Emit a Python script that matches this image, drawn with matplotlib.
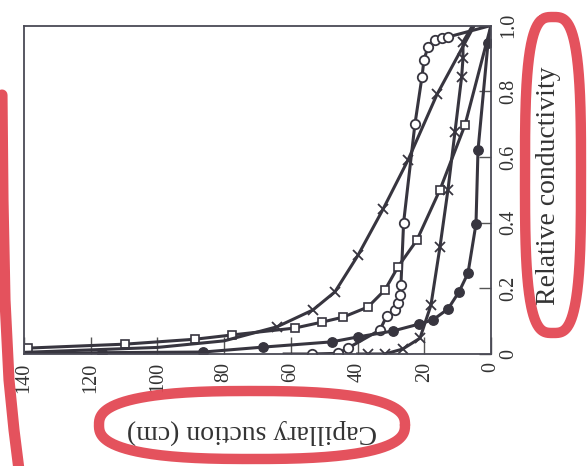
import numpy as np
import matplotlib.pyplot as plt
from matplotlib.lines import Line2D

# capillary suction (cm) / relative conductivity
suction_circ = [62, 53.7, 45.9, 42.9, 33.3, 31.3, 28.8, 27.9, 27.3, 27.0, 26.2, 22.8, 20.7, 20.1, 18.9, 16.8, 14.7, 12.9, 0]
cond_circ = [0.0, 0.0, 0.002, 0.018, 0.073, 0.115, 0.134, 0.155, 0.18, 0.21, 0.40, 0.70, 0.843, 0.895, 0.935, 0.956, 0.962, 0.965, 1.0]

suction_dot = [140, 116.6, 86.3, 68.3, 47.7, 39.9, 29.4, 21.6, 17.4, 12.9, 9.6, 6.9, 4.5, 3.9, 0.9, 0]
cond_dot = [0.0, 0.004, 0.006, 0.021, 0.037, 0.052, 0.07, 0.091, 0.104, 0.137, 0.189, 0.246, 0.396, 0.62, 0.946, 1.0]

suction_sq = [140, 138.8, 109.7, 88.7, 77.6, 58.8, 50.7, 44.4, 36.9, 31.8, 27.9, 22.2, 15.3, 7.8, 0]
cond_sq = [0.015, 0.018, 0.03, 0.045, 0.058, 0.079, 0.097, 0.112, 0.143, 0.195, 0.265, 0.347, 0.50, 0.697, 1.0]

suction_xw = [140, 100, 80, 64.1, 53.4, 46.8, 39.9, 32.4, 24.9, 16.2, 5.0]
cond_xw = [0.005, 0.02, 0.04, 0.083, 0.134, 0.189, 0.30, 0.44, 0.59, 0.79, 1.0]

suction_xs = [40, 36.9, 31.8, 26.5, 21.3, 18.0, 15.3, 12.9, 10.8, 8.8, 8.4, 8.4, 5.5]
cond_xs = [0.0, 0.0, 0.0, 0.015, 0.048, 0.149, 0.326, 0.50, 0.676, 0.844, 0.90, 0.95, 1.0]

xticks = [140, 120, 100, 80, 60, 40, 20, 0]
yticks = [0, 0.2, 0.4, 0.6, 0.8, 1.0]
ytick_labels = ['0', '0.2', '0.4', '0.6', '0.8', '1.0']

plt.rcParams['font.family'] = ['Liberation Serif', 'DejaVu Serif']

W, H = 588, 466
fig = plt.figure(figsize=(W/100, H/100), dpi=100)
ax = fig.add_axes([24/W, 1-354/H, 467/W, 328.5/H])

lc = '#37353f'
lw = 2.2
ax.plot(suction_circ, cond_circ, '-o', color=lc, lw=lw, ms=6.8, mfc='white', mew=1.3, markevery=slice(1, -1))
ax.plot(suction_dot, cond_dot, '-o', color=lc, lw=lw, ms=6.8, mfc=lc, markevery=slice(1, -1))
ax.plot(suction_sq, cond_sq, '-s', color=lc, lw=lw, ms=5.5, mfc='white', mew=1.2, markevery=slice(1, -1))
ax.plot(suction_xw, cond_xw, '-x', color=lc, lw=lw, ms=7, mew=1.3, markevery=slice(3, -1))
ax.plot(suction_xs, cond_xs, '-x', color=lc, lw=lw, ms=7, mew=1.3, markevery=slice(1, -1))

ax.set_xlim(140, 0)
ax.set_ylim(0, 1)
ax.set_xticks(xticks)
ax.set_xticklabels([str(t) for t in xticks], rotation=90)
ax.yaxis.tick_right()
ax.set_yticks(yticks)
ax.set_yticklabels(ytick_labels, rotation=90)
ax.tick_params(axis='x', direction='in', length=12, width=1, colors='#555', labelcolor='#333', labelsize=14.5, pad=6)
ax.tick_params(axis='y', direction='in', length=9, width=1, colors='#555', labelcolor='#333', labelsize=14.5, pad=6)
for t in ax.get_yticklabels():
    t.set_verticalalignment('center')
for sp in ax.spines.values():
    sp.set_color('#4a4a55')
    sp.set_linewidth(1.3)

ax.set_xlabel('Capillary suction (cm)', rotation=180, fontsize=20, color='#333', va='center')
ax.xaxis.set_label_coords((252-24)/467, (354-432)/328.5)
ax.yaxis.set_label_position('right')
ax.set_ylabel('Relative conductivity', rotation=90, fontsize=20, color='#333', va='center')
ax.yaxis.set_label_coords((548-24)/467, (354-186)/328.5)

# red marker pen strokes on the scan
red = '#e2434f'

def pen(xs, ys, lw=7.5):
    xs = np.asarray(xs) / W
    ys = 1 - np.asarray(ys) / H
    fig.add_artist(Line2D(xs, ys, transform=fig.transFigure, color=red, lw=lw,
                          alpha=0.92, solid_capstyle='round', solid_joinstyle='round'))

def loop(cx, cy, a, b, n, t0, t1):
    t = np.linspace(t0, t1, 300)
    c, s = np.cos(t), np.sin(t)
    pen(cx + a*np.sign(c)*np.abs(c)**(2/n), cy + b*np.sign(s)*np.abs(s)**(2/n))

loop(553, 175, 28, 158, 3.2, -1.75, 4.45)
loop(252, 425, 153, 34, 2.6, 0, 2*np.pi)
pen([2, 3, 5, 9, 14, 19], [95, 200, 300, 380, 430, 470], lw=8)

fig.savefig('out.png', dpi=100)
